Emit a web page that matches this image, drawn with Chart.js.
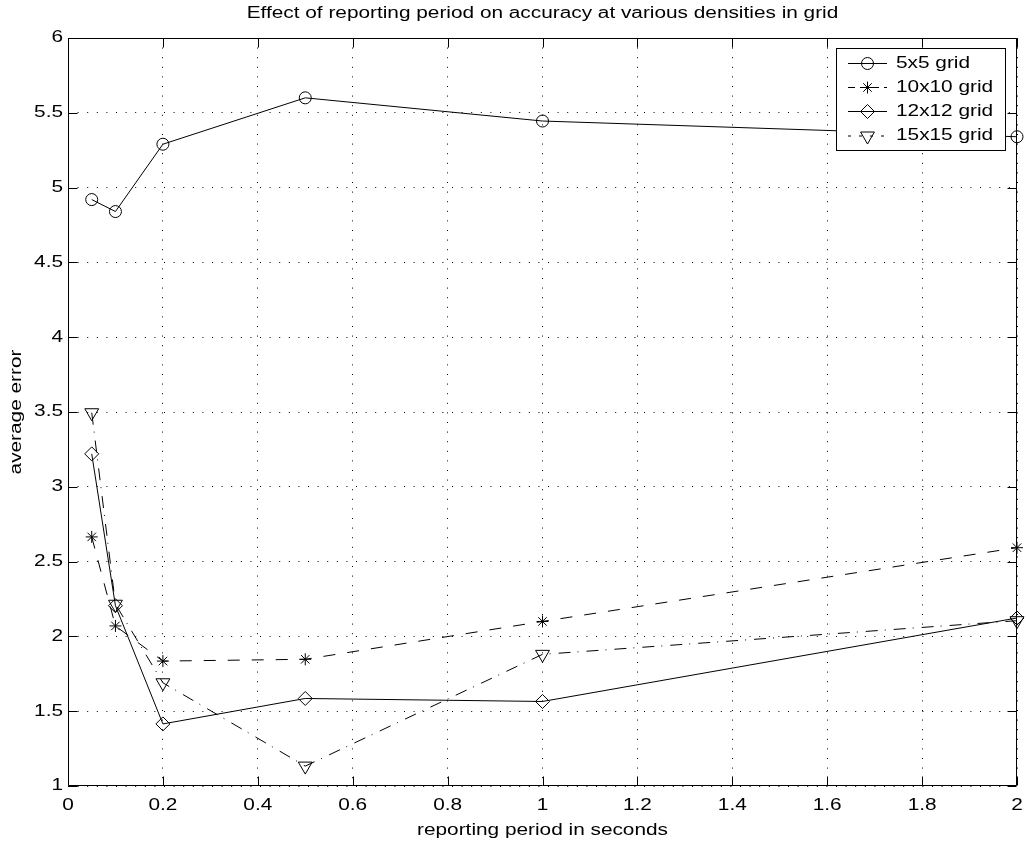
<!DOCTYPE html>
<html>
<head>
<meta charset="utf-8">
<script src="https://cdn.jsdelivr.net/npm/chart.js@4/dist/chart.umd.min.js"></script>
<style>
  html, body { margin: 0; padding: 0; background: #fff; }
  canvas { display: block; }
</style>
</head>
<body>
<canvas id="c" width="1026" height="845"></canvas>
<script>
// ---- data ----
const xValues = [0.05, 0.1, 0.2, 0.5, 1, 2];
const grid5  = [4.92, 4.84, 5.29, 5.60, 5.445, 5.34];
const grid10 = [2.665, 2.07, 1.835, 1.847, 2.10, 2.593];
const grid12 = [3.22, 2.205, 1.415, 1.585, 1.565, 2.123];
const grid15 = [3.495, 2.215, 1.69, 1.133, 1.88, 2.105];
const seriesLabels = ['5x5 grid', '10x10 grid', '12x12 grid', '15x15 grid'];
const xTicks = [0, 0.2, 0.4, 0.6, 0.8, 1, 1.2, 1.4, 1.6, 1.8, 2];
const xTickLabels = ['0', '0.2', '0.4', '0.6', '0.8', '1', '1.2', '1.4', '1.6', '1.8', '2'];
const yTicks = [1, 1.5, 2, 2.5, 3, 3.5, 4, 4.5, 5, 5.5, 6];
const yTickLabels = ['1', '1.5', '2', '2.5', '3', '3.5', '4', '4.5', '5', '5.5', '6'];

const FONT = '"Liberation Sans", Arial, Helvetica, sans-serif';
const canvas = document.getElementById('c');
const ctx = canvas.getContext('2d');

// wide text rendering (horizontal stretch of glyphs, as in the reference)
const K = 1.3;
const origFill = ctx.fillText.bind(ctx);
const origMeasure = ctx.measureText.bind(ctx);
ctx.fillText = function (t, x, y, mw) {
  ctx.save();
  ctx.translate(x, y);
  ctx.scale(K, 1);
  if (mw === undefined || mw === null) origFill(t, 0, 0); else origFill(t, 0, 0, mw / K);
  ctx.restore();
};
ctx.measureText = function (t) {
  const m = origMeasure(t);
  return {
    width: m.width * K,
    actualBoundingBoxAscent: m.actualBoundingBoxAscent,
    actualBoundingBoxDescent: m.actualBoundingBoxDescent,
    actualBoundingBoxLeft: m.actualBoundingBoxLeft * K,
    actualBoundingBoxRight: m.actualBoundingBoxRight * K
  };
};

const styles = [
  { pointStyle: 'circle',   radius: 6,   rotation: 0,   dash: [] },
  { pointStyle: 'star',     radius: 6,   rotation: 0,   dash: [12, 12] },
  { pointStyle: 'rectRot',  radius: 7,   rotation: 0,   dash: [] },
  { pointStyle: 'triangle', radius: 8,   rotation: 180, dash: [12, 7, 1, 8] }
];
const allSeries = [grid5, grid10, grid12, grid15];

const datasets = allSeries.map((vals, i) => ({
  label: seriesLabels[i],
  data: xValues.map((x, j) => ({ x: x, y: vals[j] })),
  borderColor: '#000',
  backgroundColor: 'rgba(0,0,0,0)',
  borderWidth: 1,
  borderDash: styles[i].dash,
  pointStyle: styles[i].pointStyle,
  pointRadius: styles[i].radius,
  pointRotation: styles[i].rotation,
  pointBorderColor: '#000',
  pointBackgroundColor: 'rgba(0,0,0,0)',
  pointBorderWidth: 1,
  tension: 0,
  fill: false,
  clip: false
}));

function noPad(s) {
  s.paddingLeft = 0; s.paddingRight = 0; s.paddingTop = 0; s.paddingBottom = 0;
}

const boxPlugin = {
  id: 'boxTicks',
  afterDraw(chart) {
    const c = chart.ctx;
    const a = chart.chartArea;
    const xs = chart.scales.x, ys = chart.scales.y;
    const L = Math.round(a.left) + 0.5, R = Math.round(a.right) - 0.5;
    const T = Math.round(a.top) + 0.5, B = Math.round(a.bottom) - 0.5;
    c.save();
    c.setLineDash([]);
    c.strokeStyle = '#000';
    c.lineWidth = 1;
    c.beginPath();
    c.rect(L, T, R - L, B - T);
    c.stroke();
    const tl = 9;
    c.beginPath();
    xTicks.forEach(v => {
      const px = Math.round(xs.getPixelForValue(v)) + 0.5;
      c.moveTo(px, B); c.lineTo(px, B - tl);
      c.moveTo(px, T); c.lineTo(px, T + tl);
    });
    yTicks.forEach(v => {
      const py = Math.round(ys.getPixelForValue(v)) + 0.5;
      c.moveTo(L, py); c.lineTo(L + tl, py);
      c.moveTo(R, py); c.lineTo(R - tl, py);
    });
    c.stroke();

    // legend box
    const lx = 836.5, ly = 48.5, lw = 169, lh = 102;
    c.fillStyle = '#fff';
    c.fillRect(lx, ly, lw, lh);
    c.strokeRect(lx, ly, lw, lh);
    const rowY = [63.5, 87.5, 111.5, 136];
    c.font = '16px ' + FONT;
    c.textBaseline = 'middle';
    c.textAlign = 'left';
    chart.data.datasets.forEach((ds, i) => {
      const y = rowY[i];
      c.save();
      c.strokeStyle = '#000';
      c.lineWidth = 1;
      c.setLineDash(styles[i].dash.length ? [3, 8] : []);
      if (i === 1) c.setLineDash([7, 5]);
      c.beginPath();
      c.moveTo(848, y); c.lineTo(887, y);
      c.stroke();
      c.setLineDash([]);
      c.fillStyle = 'rgba(0,0,0,0)';
      if (Chart.helpers && Chart.helpers.drawPoint) {
        Chart.helpers.drawPoint(c, {
          pointStyle: styles[i].pointStyle,
          radius: styles[i].radius,
          rotation: styles[i].rotation,
          borderWidth: 1
        }, 867.5, y);
      }
      c.restore();
      c.fillStyle = '#000';
      c.fillText(ds.label, 896, y);
    });
    c.restore();
  }
};

new Chart(ctx, {
  type: 'line',
  data: { datasets: datasets },
  options: {
    responsive: false,
    animation: false,
    devicePixelRatio: 1,
    layout: { padding: { left: 0, right: 8, top: 0, bottom: 0 } },
    plugins: {
      legend: { display: false },
      tooltip: { enabled: false },
      title: {
        display: true,
        text: 'Effect of reporting period on accuracy at various densities in grid',
        color: '#000',
        fullSize: false,
        font: { family: FONT, size: 16, weight: 'normal', lineHeight: 1.2 },
        padding: { top: 4, bottom: 14.8 }
      }
    },
    scales: {
      x: {
        type: 'linear',
        min: 0, max: 2,
        afterFit(s) { s.height = 59; noPad(s); },
        afterBuildTicks(s) { s.ticks = xTicks.map(v => ({ value: v })); },
        ticks: {
          color: '#000',
          padding: 10,
          maxRotation: 0,
          autoSkip: false,
          font: { family: FONT, size: 16 },
          callback: (v) => { const i = xTicks.indexOf(v); return i >= 0 ? xTickLabels[i] : ''; }
        },
        grid: { color: '#000', lineWidth: 1, drawTicks: false },
        border: { display: false, dash: [1, 8.6] },
        title: {
          display: true, text: 'reporting period in seconds', color: '#000',
          font: { family: FONT, size: 16, lineHeight: 1.2 },
          padding: { top: 0, bottom: 5 }
        }
      },
      y: {
        type: 'linear',
        min: 1, max: 6,
        afterFit(s) { s.width = 68; noPad(s); },
        afterBuildTicks(s) { s.ticks = yTicks.map(v => ({ value: v })); },
        ticks: {
          color: '#000',
          padding: 5,
          autoSkip: false,
          font: { family: FONT, size: 16 },
          callback: (v) => { const i = yTicks.indexOf(v); return i >= 0 ? yTickLabels[i] : ''; }
        },
        grid: { color: '#000', lineWidth: 1, drawTicks: false },
        border: { display: false, dash: [1, 8.6] },
        title: {
          display: true, text: 'average error', color: '#000',
          font: { family: FONT, size: 16, lineHeight: 1.2 },
          padding: { top: 7, bottom: 0 }
        }
      }
    }
  },
  plugins: [boxPlugin]
});
</script>
</body>
</html>
